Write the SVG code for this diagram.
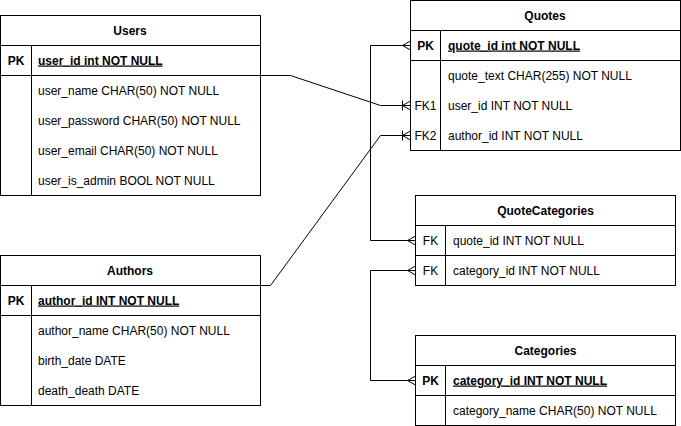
<svg xmlns="http://www.w3.org/2000/svg" width="681" height="426" viewBox="0 0 681 426">
<style>
text{font-family:"Liberation Sans",Arial,Helvetica,sans-serif;font-size:12px;fill:#000}
.t{font-weight:bold;text-anchor:middle}
.k{text-anchor:middle}
.kb{font-weight:bold;text-anchor:middle}
.pk{font-weight:bold;text-decoration:underline}
.box{fill:#fff;stroke:#000;stroke-width:1}
.ln{fill:none;stroke:#000;stroke-width:1}
.edge{fill:none;stroke:#000;stroke-width:1}
</style>
<defs>
<marker id="many" markerUnits="userSpaceOnUse" viewBox="-10 -6 12 12" refX="0" refY="0" markerWidth="12" markerHeight="12" orient="auto-start-reverse">
<path d="M-8,0 L0,-4.5 M-8,0 L0,4.5" fill="none" stroke="#000" stroke-width="1"/>
</marker>
<marker id="mandMany" markerUnits="userSpaceOnUse" viewBox="-10 -6 12 12" refX="0" refY="0" markerWidth="12" markerHeight="12" orient="auto-start-reverse">
<path d="M-8,0 L0,-4.5 M-8,0 L0,4.5 M-8,-5 L-8,5" fill="none" stroke="#000" stroke-width="1"/>
</marker>
</defs>
<rect width="681" height="426" fill="#fff"/>
<g id="connectors">
<path class="edge" d="M260.5,75.5 L290.5,75.5 L380.5,105.5 L410.5,105.5" marker-end="url(#mandMany)"/>
<path class="edge" d="M260.5,285.5 L270.5,285.5 L380.5,135.5 L410.5,135.5" marker-end="url(#mandMany)"/>
<path class="edge" d="M410.5,45.5 L370.5,45.5 L370.5,240.5 L415.5,240.5" marker-start="url(#many)" marker-end="url(#many)"/>
<path class="edge" d="M415.5,270.5 L370.5,270.5 L370.5,380.5 L415.5,380.5" marker-start="url(#many)" marker-end="url(#many)"/>
</g>
<g id="users">
<rect class="box" x="0.5" y="15.5" width="260" height="180"/>
<path class="ln" d="M0.5,45.5 H260.5 M0.5,75.5 H260.5 M31.5,45.5 V195.5"/>
<text class="t" x="130" y="34.5">Users</text>
<text class="kb" x="16" y="64.5">PK</text>
<text class="pk" x="38" y="64.5">user_id int NOT NULL</text>
<text x="38" y="94.5">user_name CHAR(50) NOT NULL</text>
<text x="38" y="124.5">user_password CHAR(50) NOT NULL</text>
<text x="38" y="154.5">user_email CHAR(50) NOT NULL</text>
<text x="38" y="184.5">user_is_admin BOOL NOT NULL</text>
</g>
<g id="authors">
<rect class="box" x="0.5" y="255.5" width="260" height="150"/>
<path class="ln" d="M0.5,285.5 H260.5 M0.5,315.5 H260.5 M31.5,285.5 V405.5"/>
<text class="t" x="130" y="274.5">Authors</text>
<text class="kb" x="16" y="304.5">PK</text>
<text class="pk" x="38" y="304.5">author_id INT NOT NULL</text>
<text x="38" y="334.5">author_name CHAR(50) NOT NULL</text>
<text x="38" y="364.5">birth_date DATE</text>
<text x="38" y="394.5">death_death DATE</text>
</g>
<g id="quotes">
<rect class="box" x="410.5" y="0.5" width="270" height="150"/>
<path class="ln" d="M410.5,30.5 H680.5 M410.5,60.5 H680.5 M440.5,30.5 V150.5"/>
<text class="t" x="545" y="19.5">Quotes</text>
<text class="kb" x="425.5" y="49.5">PK</text>
<text class="pk" x="448" y="49.5">quote_id int NOT NULL</text>
<text x="448" y="79.5">quote_text CHAR(255) NOT NULL</text>
<text class="k" x="425.5" y="109.5">FK1</text>
<text x="448" y="109.5">user_id INT NOT NULL</text>
<text class="k" x="425.5" y="139.5">FK2</text>
<text x="448" y="139.5">author_id INT NOT NULL</text>
</g>
<g id="quotecategories">
<rect class="box" x="415.5" y="195.5" width="260" height="90"/>
<path class="ln" d="M415.5,225.5 H675.5 M415.5,255.5 H675.5 M445.5,225.5 V285.5"/>
<text class="t" x="545.5" y="214.5">QuoteCategories</text>
<text class="k" x="430.5" y="244.5">FK</text>
<text x="453" y="244.5">quote_id INT NOT NULL</text>
<text class="k" x="430.5" y="274.5">FK</text>
<text x="453" y="274.5">category_id INT NOT NULL</text>
</g>
<g id="categories">
<rect class="box" x="415.5" y="335.5" width="260" height="90"/>
<path class="ln" d="M415.5,365.5 H675.5 M415.5,395.5 H675.5 M445.5,365.5 V425.5"/>
<text class="t" x="545.5" y="354.5">Categories</text>
<text class="kb" x="430.5" y="384.5">PK</text>
<text class="pk" x="453" y="384.5">category_id INT NOT NULL</text>
<text x="453" y="414.5">category_name CHAR(50) NOT NULL</text>
</g>
</svg>
